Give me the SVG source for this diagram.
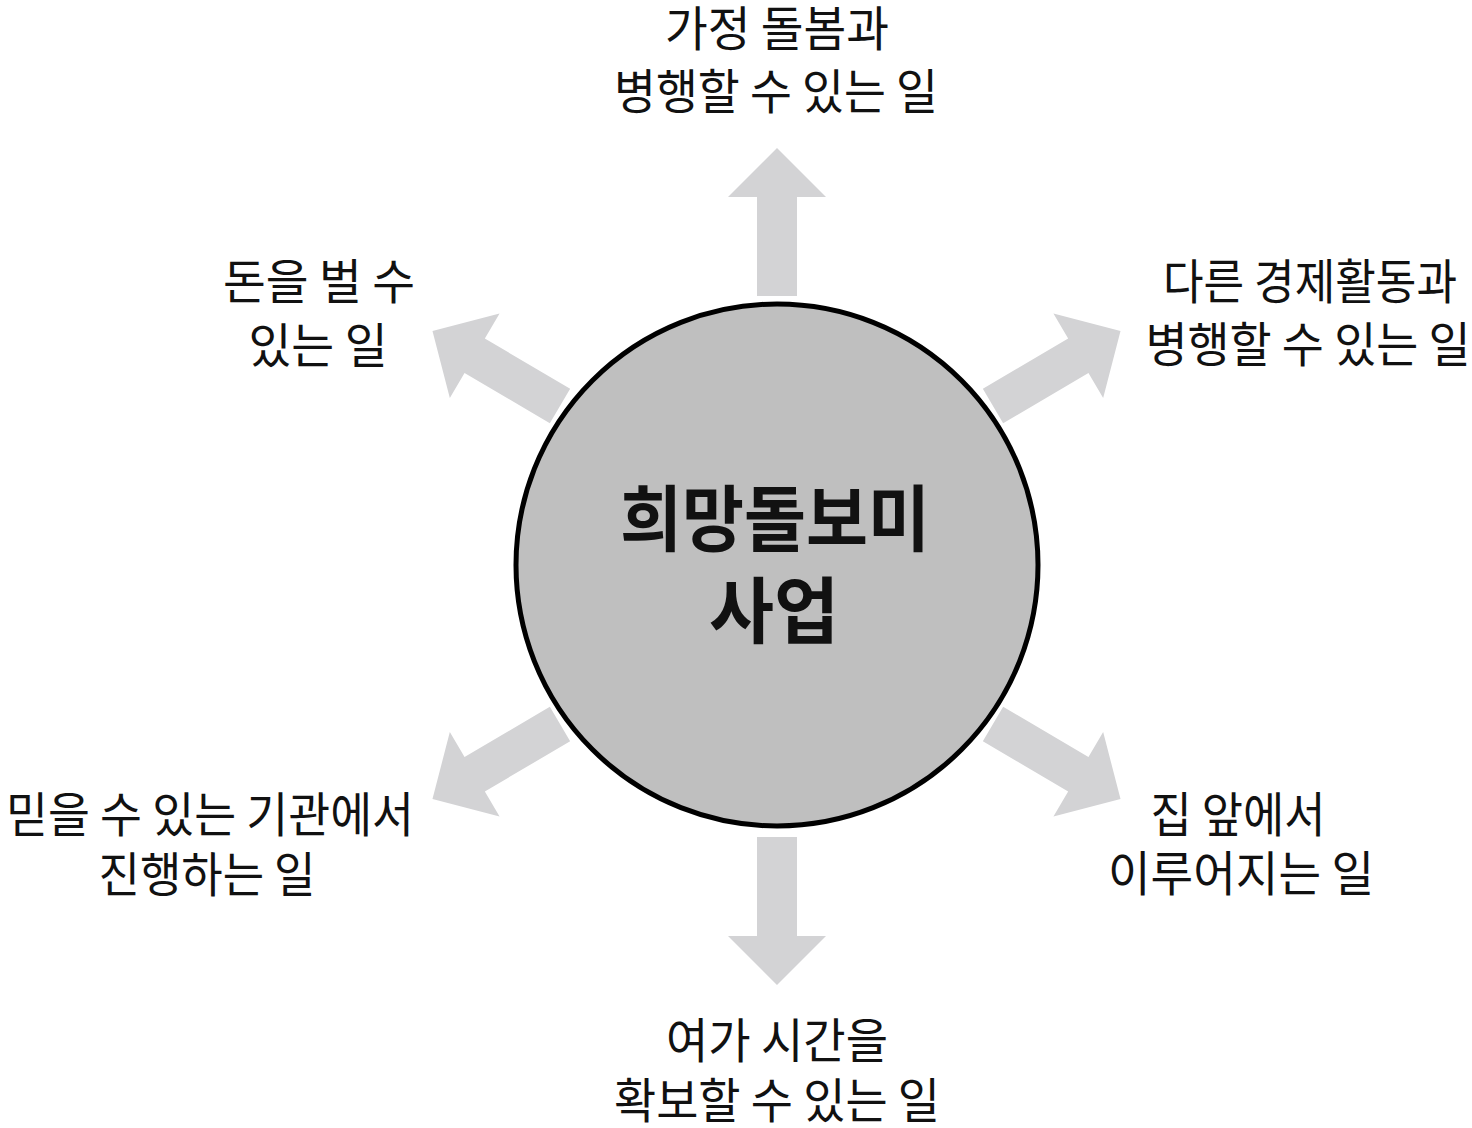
<svg xmlns="http://www.w3.org/2000/svg" xmlns:xlink="http://www.w3.org/1999/xlink" width="1472" height="1128" viewBox="0 0 1472 1128">
<style>
.lbl{font-family:"Noto Sans CJK KR","Noto Sans",sans-serif;font-size:48px;font-weight:400;fill:#111;text-anchor:middle}
.ctr{font-family:"Noto Sans CJK KR","Noto Sans",sans-serif;font-size:72px;font-weight:700;fill:#111;text-anchor:middle}
.arr{fill:#d3d3d5}
</style>
<defs>
<path id="arrow" d="M0,-20 H99 V-49 L148,0 L99,49 V20 H0 Z"/>
</defs>
<rect width="1472" height="1128" fill="#fff"/>
<g id="connectors" class="arr">
<use xlink:href="#arrow" href="#arrow" transform="translate(777,296) rotate(-90)"/>
<use xlink:href="#arrow" href="#arrow" transform="translate(777,837) rotate(90)"/>
<use xlink:href="#arrow" href="#arrow" transform="translate(560,406) rotate(-149.5)"/>
<use xlink:href="#arrow" href="#arrow" transform="translate(993,406) rotate(-30.5)"/>
<use xlink:href="#arrow" href="#arrow" transform="translate(560,724) rotate(149.5)"/>
<use xlink:href="#arrow" href="#arrow" transform="translate(993,724) rotate(30.5)"/>
</g>
<g id="center">
<circle cx="777" cy="565" r="261" fill="#bfbfbf" stroke="#000" stroke-width="5"/>
<text class="ctr" x="775" y="545" textLength="310" lengthAdjust="spacingAndGlyphs">희망돌보미</text>
<text class="ctr" x="774" y="637" textLength="130" lengthAdjust="spacingAndGlyphs">사업</text>
</g>
<g id="top">
<text class="lbl" x="777" y="46" textLength="224" lengthAdjust="spacingAndGlyphs">가정 돌봄과</text>
<text class="lbl" x="776" y="109" textLength="324" lengthAdjust="spacingAndGlyphs">병행할 수 있는 일</text>
</g>
<g id="upper-left">
<text class="lbl" x="319" y="299" textLength="192" lengthAdjust="spacingAndGlyphs">돈을 벌 수</text>
<text class="lbl" x="318" y="363" textLength="139" lengthAdjust="spacingAndGlyphs">있는 일</text>
</g>
<g id="upper-right">
<text class="lbl" x="1310" y="299" textLength="294" lengthAdjust="spacingAndGlyphs">다른 경제활동과</text>
<text class="lbl" x="1308" y="362" textLength="325" lengthAdjust="spacingAndGlyphs">병행할 수 있는 일</text>
</g>
<g id="lower-left">
<text class="lbl" x="210" y="832" textLength="408" lengthAdjust="spacingAndGlyphs">믿을 수 있는 기관에서</text>
<text class="lbl" x="207" y="892" textLength="217" lengthAdjust="spacingAndGlyphs">진행하는 일</text>
</g>
<g id="lower-right">
<text class="lbl" x="1238" y="832" textLength="175" lengthAdjust="spacingAndGlyphs">집 앞에서</text>
<text class="lbl" x="1241" y="891" textLength="266" lengthAdjust="spacingAndGlyphs">이루어지는 일</text>
</g>
<g id="bottom">
<text class="lbl" x="777" y="1058" textLength="222" lengthAdjust="spacingAndGlyphs">여가 시간을</text>
<text class="lbl" x="777" y="1118" textLength="326" lengthAdjust="spacingAndGlyphs">확보할 수 있는 일</text>
</g>
</svg>
